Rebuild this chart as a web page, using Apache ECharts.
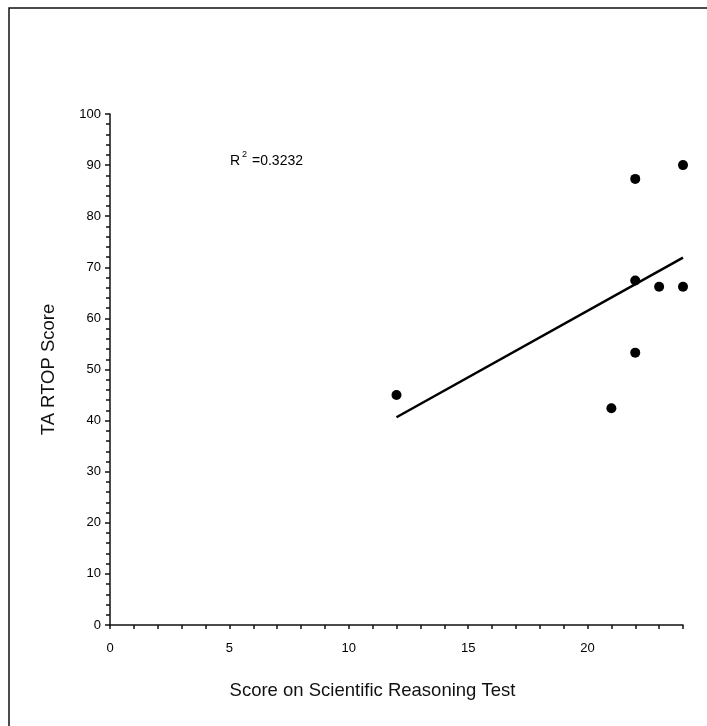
<!DOCTYPE html>
<html>
<head>
<meta charset="utf-8">
<script src="https://cdn.jsdelivr.net/npm/echarts@6/dist/echarts.min.js"></script>
<style>
html,body{margin:0;padding:0;background:#fff;}
#chart{width:707px;height:726px;}
</style>
</head>
<body>
<div id="chart"></div>
<script>
// Data
const reasoningScores = [12, 21, 22, 22, 22, 23, 24, 24];
const rtopScores      = [45, 42.4, 53.3, 87.3, 67.4, 66.2, 66.2, 90];
const xTickValues = [0, 5, 10, 15, 20];
const yTickValues = [0, 10, 20, 30, 40, 50, 60, 70, 80, 90, 100];
const xAxisTitle = 'Score on Scientific Reasoning Test';
const yAxisTitle = 'TA RTOP Score';
const rSquaredValue = '0.3232';

// Least-squares trend line derived from the data
const n = reasoningScores.length;
const mx = reasoningScores.reduce((a, b) => a + b, 0) / n;
const my = rtopScores.reduce((a, b) => a + b, 0) / n;
let sxy = 0, sxx = 0;
for (let i = 0; i < n; i++) {
  sxy += (reasoningScores[i] - mx) * (rtopScores[i] - my);
  sxx += (reasoningScores[i] - mx) ** 2;
}
const slope = sxy / sxx;
const intercept = my - slope * mx;
const xMinData = Math.min(...reasoningScores);
const xMaxData = Math.max(...reasoningScores);
const trend = [[xMinData, intercept + slope * xMinData], [xMaxData, intercept + slope * xMaxData]];

const points = reasoningScores.map((x, i) => [x, rtopScores[i]]);

const chart = echarts.init(document.getElementById('chart'), null, {renderer: 'canvas'});
const labelFont = '"Liberation Sans", Arial, sans-serif';
chart.setOption({
  backgroundColor: '#ffffff',
  animation: false,
  grid: {left: 110, right: 24, top: 114, bottom: 101},
  xAxis: {
    type: 'value', min: 0, max: 24, interval: 5,
    name: xAxisTitle, nameLocation: 'middle', nameGap: 56,
    nameTextStyle: {fontFamily: labelFont, fontSize: 18.5, color: '#111', padding: [0, 48, 0, 0]},
    axisLine: {show: true, onZero: false, lineStyle: {color: '#111', width: 1.5}},
    axisTick: {show: true, inside: false, length: 4, lineStyle: {color: '#111', width: 1.5}},
    minorTick: {show: true, splitNumber: 5, length: 4, lineStyle: {color: '#111', width: 1.5}},
    splitLine: {show: false},
    axisLabel: {
      margin: 17, fontFamily: labelFont, fontSize: 13, color: '#000',
      formatter: v => xTickValues.includes(v) ? String(v) : ''
    }
  },
  yAxis: {
    type: 'value', min: 0, max: 100, interval: 10,
    name: yAxisTitle, nameLocation: 'middle', nameGap: 52, nameRotate: 90,
    nameTextStyle: {fontFamily: labelFont, fontSize: 18.5, color: '#111'},
    axisLine: {show: true, onZero: false, lineStyle: {color: '#111', width: 1.5}},
    axisTick: {show: true, inside: false, length: 5, lineStyle: {color: '#111', width: 1.5}},
    minorTick: {show: true, splitNumber: 5, length: 4, lineStyle: {color: '#111', width: 1.5}},
    splitLine: {show: false},
    axisLabel: {
      margin: 9, fontFamily: labelFont, fontSize: 13, color: '#000',
      formatter: v => yTickValues.includes(v) ? String(v) : ''
    }
  },
  series: [
    {
      type: 'line', data: trend, showSymbol: false, symbol: 'none',
      lineStyle: {color: '#000', width: 2.5}, z: 2
    },
    {
      type: 'scatter', data: points, symbol: 'circle', symbolSize: 10,
      itemStyle: {color: '#000', opacity: 1}, z: 3
    }
  ],
  graphic: [
    {
      type: 'rect', silent: true,
      shape: {x: 9, y: 8, width: 720, height: 740},
      style: {fill: 'none', stroke: '#111', lineWidth: 1.5}
    },
    {
      type: 'text', left: 230, top: 148, silent: true,
      style: {
        text: '{r|R}{s|2}{r| =' + rSquaredValue + '}',
        rich: {
          r: {fontFamily: labelFont, fontSize: 14, fill: '#000', lineHeight: 20, verticalAlign: 'bottom'},
          s: {fontFamily: labelFont, fontSize: 9, fill: '#000', lineHeight: 20, verticalAlign: 'top', padding: [2, 1, 0, 2]}
        }
      }
    }
  ]
});
</script>
</body>
</html>
